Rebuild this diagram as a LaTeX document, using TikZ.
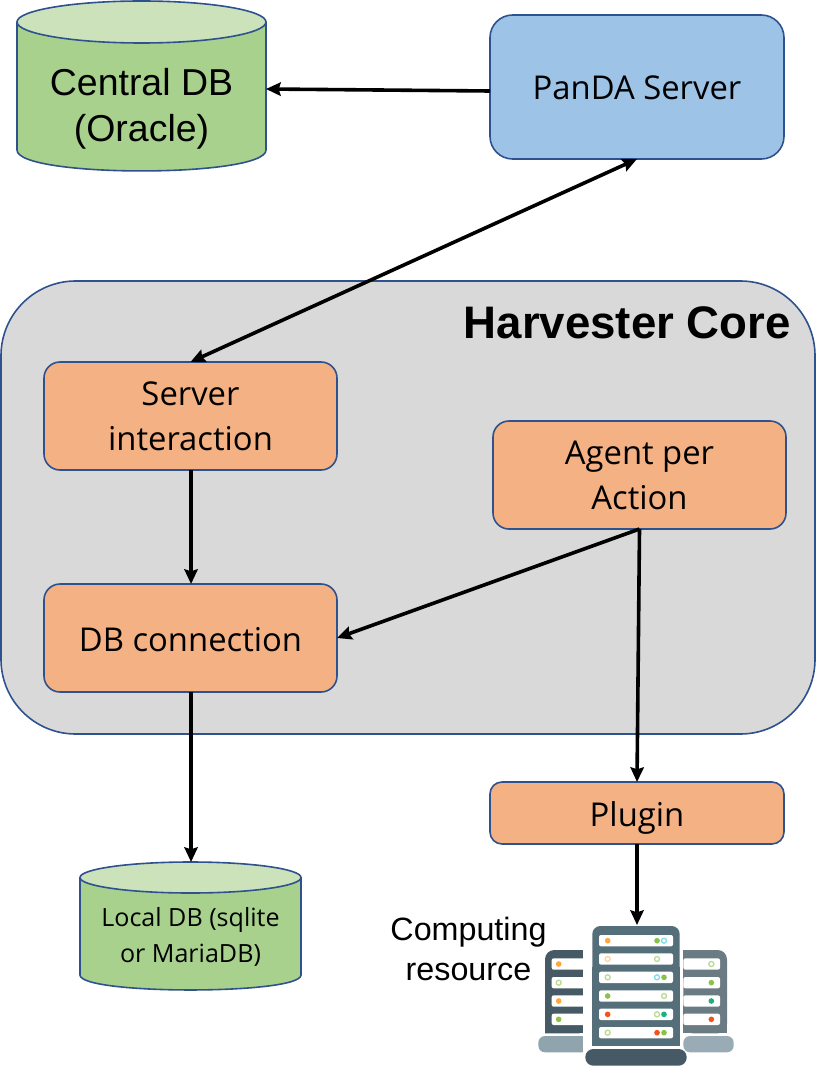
\documentclass[tikz,border=0pt]{standalone}
\usepackage{fontspec}
\setmainfont{Open Sans}
\newfontfamily\arialf{Liberation Sans}
\usetikzlibrary{arrows.meta}
\definecolor{edgeblue}{HTML}{2F528F}
\definecolor{panda}{HTML}{9DC3E6}
\definecolor{coregray}{HTML}{D9D9D9}
\definecolor{orangebox}{HTML}{F4B183}
\definecolor{greenbody}{HTML}{A9D18E}
\definecolor{greentop}{HTML}{CBE2BB}
\definecolor{rackmid}{HTML}{546E7A}
\definecolor{rackleft}{HTML}{455A64}
\definecolor{rackright}{HTML}{6A7B84}
\definecolor{baseg}{HTML}{90A4AE}
\definecolor{dotor}{HTML}{FFA63D}
\definecolor{dotgr}{HTML}{8BC34A}
\definecolor{dotcy}{HTML}{80DEEA}
\definecolor{dotre}{HTML}{F4511E}
\definecolor{dotte}{HTML}{1DB07E}
\definecolor{dotlg}{HTML}{B9DC92}
\definecolor{dotlo}{HTML}{FFD29A}
\tikzset{
  box/.style={draw=edgeblue,line width=1.2pt,rounded corners=12pt,fill=orangebox,inner sep=0pt,outer sep=0pt,align=center,font=\fontsize{24.6}{33.75}\selectfont},
  conn/.style={line width=2.7pt,draw=black,-{Stealth[length=11pt,width=10pt,inset=1.5pt]}},
  conntwo/.style={line width=2.7pt,draw=black,{Stealth[length=11pt,width=10pt,inset=1.5pt]}-{Stealth[length=11pt,width=10pt,inset=1.5pt]}},
  rowbar/.style={fill=white,rounded corners=1.5pt},
  cyltext/.style={inner sep=0pt,outer sep=0pt,align=center},
}
\newcommand{\shifted}[2]{\raisebox{-#1}[\height][\depth]{\begin{tabular}{@{}c@{}}#2\end{tabular}}}
% x1 x2 ytop yellipsebottom ysideend ybottom
\newcommand{\cylshape}[6]{%
  \path[fill=greenbody,draw=edgeblue,line width=1.2pt]
    (#1,{(#3+#4)/2}) -- (#1,#5)
    .. controls (#1,{#5+(#6-#5)*1.33}) and (#2,{#5+(#6-#5)*1.33}) .. (#2,#5)
    -- (#2,{(#3+#4)/2});
  \path[fill=greentop,draw=edgeblue,line width=1.2pt]
    ({(#1+#2)/2},{(#3+#4)/2}) ellipse [x radius={(#2-#1)/2},y radius={(#4-#3)/2}];
}
\newcommand{\rowat}[3]{\fill[rowbar] (#1,#3-17) rectangle (#2,#3+17);}
\newcommand{\sdot}[3]{\fill[#3] (#1,#2) circle [radius=8.5];}
\newcommand{\rdot}[3]{\draw[#3,line width=1pt] (#1,#2) circle [radius=7.5];}
\begin{document}
\begin{tikzpicture}[x=0.75pt,y=-0.75pt]
\useasboundingbox (0,0) rectangle (821,1066);
% core
\node[draw=edgeblue,line width=1.2pt,fill=coregray,rounded corners=56pt,inner sep=0pt,outer sep=0pt,anchor=north west,minimum width=610.5pt,minimum height=339.75pt] (core) at (1,281) {};
\node[anchor=base east,inner sep=0pt,font=\arialf\bfseries\fontsize{34.2}{40}\selectfont] (coretitle) at (791,338) {Harvester Core};
% cylinders
\cylshape{17}{266}{1}{43}{150}{171}
\node[cyltext,font=\arialf\fontsize{28.1}{34.5}\selectfont,minimum width=186.75pt,minimum height=127.5pt] (central) at (141.5,86) {\shifted{17.75pt}{Central DB\\(Oracle)}};
\cylshape{80}{301}{862}{893}{975}{990}
\node[cyltext,font=\fontsize{18.8}{27}\selectfont,minimum width=165.75pt,minimum height=96pt] (local) at (190.5,926) {\shifted{8.2pt}{Local DB (sqlite\\or MariaDB)}};
% boxes
\node[box,fill=panda,rounded corners=17pt,minimum width=220.5pt,minimum height=108pt] (panda) at (637,87) {\shifted{3pt}{PanDA Server}};
\node[box,minimum width=219.75pt,minimum height=81pt] (srv) at (190.5,416) {\shifted{2.5pt}{Server\\interaction}};
\node[box,minimum width=219.75pt,minimum height=81pt] (dbc) at (190.5,638) {\shifted{3pt}{DB connection}};
\node[box,minimum width=219.75pt,minimum height=81pt] (agent) at (639.5,475) {\shifted{2.5pt}{Agent per\\Action}};
\node[box,rounded corners=9pt,minimum width=220.5pt,minimum height=46.5pt] (plugin) at (637,813) {\shifted{3pt}{Plugin}};
\node[inner sep=0pt,align=center,font=\arialf\fontsize{24.2}{30}\selectfont] (comp) at (468.5,949) {Computing\\resource};
% server icon
\coordinate (res) at (637,925);
\begin{scope}[shift={(520,900)},x=0.25pt,y=-0.25pt]
  \fill[rackleft,rounded corners=7pt] (75,400) -- (75,150) -- (205,150) -- (205,400) [sharp corners] -- cycle;
  \fill[rackleft] (75,300) rectangle (205,400);
  \fill[rackleft] (150,150) rectangle (205,250);
  \fill[baseg,rounded corners=5pt] (55,408) rectangle (205,457);
  \fill[rackright,rounded corners=7pt] (490,150) rectangle (621,400);
  \fill[rackright] (490,300) rectangle (621,400);
  \fill[rackright] (490,150) rectangle (550,250);
  \fill[baseg!92!white,rounded corners=5pt] (490,408) rectangle (641,457);
  \fill[white] (190,130) rectangle (208,460);
  \fill[rackmid,rounded corners=6pt] (217,78) rectangle (479,300);
  \fill[rackmid] (217,200) rectangle (479,438);
  \fill[rackleft,rounded corners=6pt] (196,447) rectangle (500,497);
  \foreach \yy in {122,177,232,288,343,398} {\rowat{237}{459}{\yy}}
  \foreach \yy in {192,248,303,358} {\fill[rowbar] (95,\yy-17) rectangle (205,\yy+17); \fill[rowbar] (490,\yy-17) rectangle (600,\yy+17);}
  \sdot{263}{122}{dotor}\sdot{411}{122}{dotgr}\rdot{432}{122}{dotcy}
  \rdot{263}{177}{dotlo}\rdot{411}{177}{dotlg}
  \rdot{263}{232}{dotlg}\rdot{411}{232}{dotcy}\sdot{432}{232}{dotgr}
  \sdot{263}{288}{dotgr}\rdot{432}{288}{dotlg}
  \sdot{263}{343}{dotre}\rdot{411}{343}{dotlg}\sdot{432}{343}{dotte}
  \rdot{263}{398}{dotlg}\sdot{411}{398}{dotre}\sdot{432}{398}{dotgr}
  \sdot{116}{192}{dotor}\rdot{116}{248}{dotlg}\sdot{116}{303}{dotor}\sdot{116}{358}{dotgr}
  \rdot{574}{192}{dotlg}\sdot{574}{248}{dotgr}\sdot{574}{303}{dotte}\sdot{574}{358}{dotre}
\end{scope}
% connectors
\draw[conn] ([yshift=-3pt]panda.west) -- ([yshift=-2.25pt]central.east);
\draw[conntwo] (panda.south) -- (srv.north);
\draw[conn] ([xshift=0.4pt]srv.south) -- ([xshift=0.4pt]dbc.north);
\draw[conn] (agent.south) -- (dbc.east);
\draw[conn] (agent.south) -- (plugin.north);
\draw[conn] ([xshift=0.4pt]dbc.south) -- ([xshift=0.4pt]local.north);
\draw[conn] (plugin.south) -- (res);
\end{tikzpicture}
\end{document}
